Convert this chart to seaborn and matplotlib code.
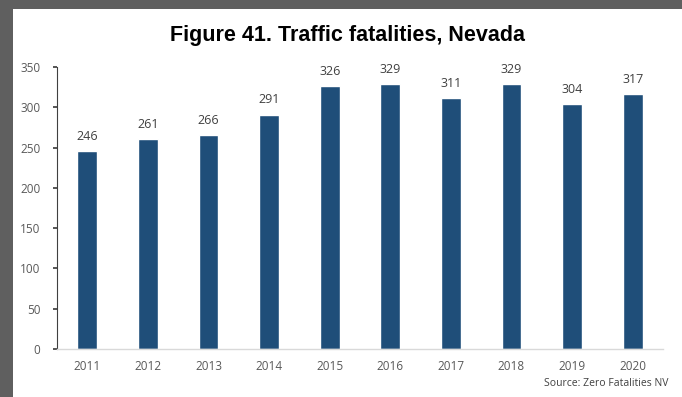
import pandas as pd
import matplotlib.pyplot as plt
import seaborn as sns

# Data
years = ['2011', '2012', '2013', '2014', '2015', '2016', '2017', '2018', '2019', '2020']
fatalities = [246, 261, 266, 291, 326, 329, 311, 329, 304, 317]

df = pd.DataFrame({'year': years, 'fatalities': fatalities})

sns.set_theme(style="white")
plt.rcParams['font.family'] = ['Open Sans', 'DejaVu Sans']

fig = plt.figure(figsize=(6.82, 3.97), dpi=100, facecolor='#5f5f5f')
# white panel inside the gray frame
panel = fig.add_axes([13 / 682, 0, 1 - 13 / 682, 1 - 9 / 397])
panel.set_facecolor('white')
panel.set_xticks([])
panel.set_yticks([])
for s in panel.spines.values():
    s.set_visible(False)

ax = fig.add_axes([57 / 682, 1 - 349 / 397, 606 / 682, 282 / 397])
ax.set_facecolor('none')
sns.barplot(data=df, x='year', y='fatalities', color='#1f4e79', width=0.33,
            saturation=1, ax=ax)

for i, v in enumerate(fatalities):
    ax.text(i, v + 10, str(v), ha='center', va='bottom', fontsize=9, color='#404040')

ax.set_ylim(0, 350)
ax.set_yticks(range(0, 351, 50))
ax.set_xlim(-0.5, 9.5)
ax.set_xlabel('')
ax.set_ylabel('')
ax.tick_params(axis='both', labelsize=8.5, labelcolor='#595959')
ax.tick_params(axis='y', direction='out', length=3, color='#404040', left=True, pad=9)
ax.tick_params(axis='x', length=0, pad=8)
for s in ['top', 'right']:
    ax.spines[s].set_visible(False)
ax.spines['left'].set_color('#404040')
ax.spines['left'].set_linewidth(0.8)
ax.spines['bottom'].set_color('#d9d9d9')
ax.spines['bottom'].set_linewidth(1.0)

fig.text(348 / 682, 1 - 35 / 397, 'Figure 41. Traffic fatalities, Nevada', ha='center', va='center',
         fontsize=15.5, fontweight='bold', family=['Liberation Sans', 'DejaVu Sans'], color='black')
fig.text(668 / 682, 1 - 384 / 397, 'Source: Zero Fatalities NV', ha='right', va='center',
         fontsize=7.5, color='#404040')

fig.savefig('out.png', dpi=100, facecolor=fig.get_facecolor())
